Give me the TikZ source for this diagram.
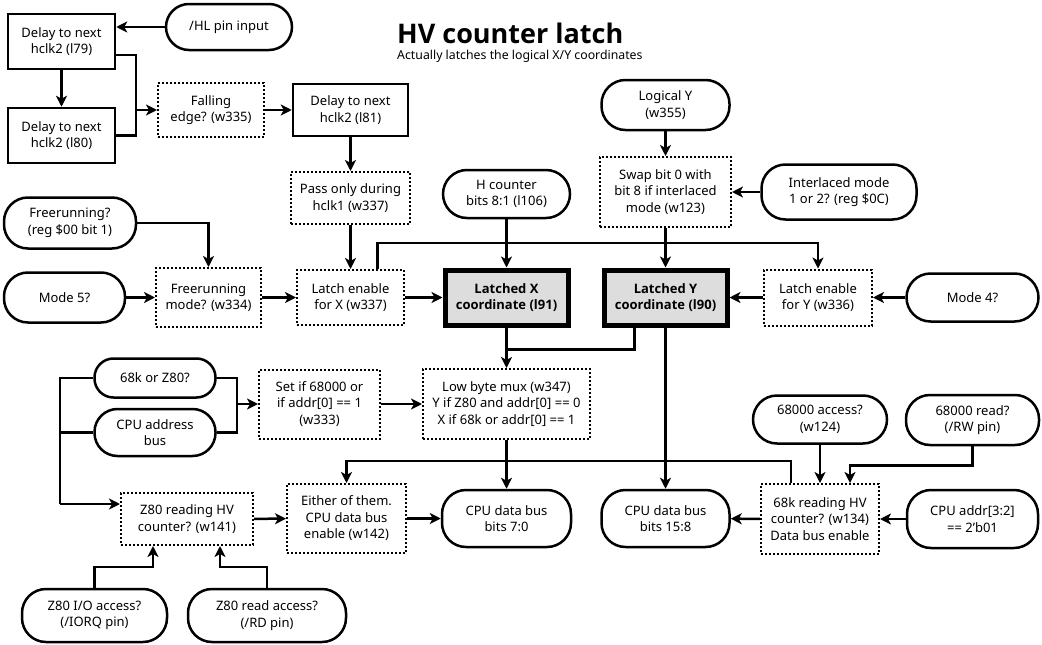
\documentclass[tikz,border=0pt]{standalone}
\usepackage{fontspec}
\setmainfont{Noto Sans}
\newfontfamily\boldfam{Open Sans}
\usetikzlibrary{arrows.meta,calc}
\definecolor{latchgray}{HTML}{DDDDDD}
\begin{document}
\begin{tikzpicture}[x=1pt,y=-1pt,
  base/.style={align=center, inner sep=0pt, font=\fontsize{13}{16.5}\selectfont, line width=2.5pt},
  rbox/.style={base, draw},
  dbox/.style={base, draw, line width=2pt, dash pattern=on 2pt off 2pt},
  lbox/.style={base, draw, line width=5pt, fill=latchgray, font=\fontsize{13}{16.5}\selectfont\boldfam\bfseries},
  stad/.style={base, draw, rounded corners=#1},
  stad/.default=24pt,
  sz/.style 2 args={minimum width=#1pt, minimum height=#2pt},
  line/.style={line width=2.5pt},
  arr/.style={line, -{Stealth[length=11pt,width=11pt,inset=3pt]}}
]
\useasboundingbox (0,0) rectangle (1042,645);

% title
\node[anchor=base west, inner sep=0pt, font=\fontsize{27}{30}\selectfont\boldfam\bfseries] (title) at (397,43) {HV counter latch};
\node[anchor=base west, inner sep=0pt, font=\fontsize{12.3}{15}\selectfont] (subtitle) at (397,59) {Actually latches the logical X/Y coordinates};

% nodes
\node[rbox, sz={107}{55}] (l79) at (61.5,41.5) {Delay to next\\hclk2 (l79)};
\node[stad=23pt, sz={126}{46}] (HL) at (229,27) {/HL pin input};
\node[rbox, sz={107}{55}] (l80) at (61.5,135.5) {Delay to next\\hclk2 (l80)};
\node[dbox, sz={106}{54}] (fall) at (211,110) {Falling\\edge? (w335)};
\node[rbox, sz={115}{52}] (l81) at (350.5,110) {Delay to next\\hclk2 (l81)};
\node[dbox, sz={119}{52}] (pass) at (350.5,198) {Pass only during\\hclk1 (w337)};
\node[stad, sz={132}{51}] (freer) at (70,223) {Freerunning?\\(reg \$00 bit 1)};
\node[stad, sz={121}{50}] (mode5) at (64.5,297.5) {Mode 5?};
\node[dbox, sz={105}{59}] (frmode) at (208.5,297.5) {Freerunning\\mode? (w334)};
\node[dbox, sz={107}{55}] (lex) at (350.5,297.5) {Latch enable\\for X (w337)};
\node[lbox, sz={123}{55}] (latx) at (506.5,297.5) {Latched X\\coordinate (l91)};
\node[lbox, sz={123}{55}] (laty) at (665.5,297.5) {Latched Y\\coordinate (l90)};
\node[dbox, sz={108}{56}] (ley) at (818,297.5) {Latch enable\\for Y (w336)};
\node[stad, sz={132}{48}] (mode4) at (972.5,297.5) {Mode 4?};
\node[stad, sz={127}{48}] (hcnt) at (506.5,194) {H counter\\bits 8:1 (l106)};
\node[dbox, sz={131}{70}] (swap) at (665.5,192) {Swap bit 0 with\\bit 8 if interlaced\\mode (w123)};
\node[stad, sz={128}{50}] (logy) at (665.5,105) {Logical Y\\(w355)};
\node[stad, sz={155}{55}] (interl) at (839,192) {Interlaced mode\\1 or 2? (reg \$0C)};
\node[dbox, sz={167}{70}] (mux) at (506.5,404) {Low byte mux (w347)\\Y if Z80 and addr[0] == 0\\X if 68k or addr[0] == 1};
\node[dbox, sz={121}{69}] (setif) at (319.5,404) {Set if 68000 or\\if addr[0] == 1\\(w333)};
\node[stad=19pt, sz={121}{39}] (k68z80) at (155,378) {68k or Z80?};
\node[stad=23pt, sz={121}{47}] (cpuaddr) at (155,432.5) {CPU address\\bus};
\node[dbox, sz={132}{52}] (z80rd) at (187,519) {Z80 reading HV\\counter? (w141)};
\node[dbox, sz={119}{69}] (either) at (346.5,518.5) {Either of them.\\CPU data bus\\enable (w142)};
\node[stad, sz={129}{57}] (db70) at (506.5,518.5) {CPU data bus\\bits 7:0};
\node[stad, sz={128}{57}] (db158) at (665.5,518.5) {CPU data bus\\bits 15:8};
\node[dbox, sz={118}{70}] (k68rd) at (820,519) {68k reading HV\\counter? (w134)\\Data bus enable};
\node[stad, sz={134}{48}] (a68k) at (820,419.5) {68000 access?\\(w124)};
\node[stad, sz={133}{50}] (r68k) at (972.5,420) {68000 read?\\(/RW pin)};
\node[stad, sz={131}{58}] (addr32) at (972.5,519) {CPU addr[3:2]\\== 2'b01};
\node[stad, sz={145}{53}] (z80io) at (94.5,615.5) {Z80 I/O access?\\(/IORQ pin)};
\node[stad, sz={158}{53}] (z80rda) at (267,615.5) {Z80 read access?\\(/RD pin)};

% junctions
\coordinate (j1) at ($(fall.west)+(-21,0)$);
\coordinate (jm) at ($(latx.south)+(0,22)$);
\coordinate (jr) at ($(setif.west)+(-21,0)$);
\coordinate (jl) at ($(z80rd.west)+(-60,-15)$);

% connectors
\draw[arr] (HL.west) -- (HL.west -| l79.east);
\draw[arr] (l79) -- (l80);
\draw[line] ($(l79.east)+(0,13.5)$) -| (j1);
\draw[line] (l80.east) -| (j1);
\draw[arr] (j1) -- (fall.west);
\draw[arr] (fall) -- (l81);
\draw[arr] (l81) -- (pass);
\draw[arr] (pass) -- (lex);
\draw[arr] (freer.east) -| (frmode.north);
\draw[arr] (mode5) -- (frmode);
\draw[arr] (frmode) -- (lex);
\draw[arr] (lex) -- (latx);
\draw[arr] ($(lex.north)+(27,0)$) -- ++(0,-26) -| (ley.north);
\draw[arr] (hcnt) -- (latx);
\draw[arr] (logy) -- (swap);
\draw[arr] (swap) -- (laty);
\draw[arr] (interl) -- (swap);
\draw[arr] (ley) -- (laty);
\draw[arr] (mode4) -- (ley);
\draw[arr] (latx) -- (mux);
\draw[line] ($(laty.south)+(-31,0)$) |- (jm);
\draw[arr] (laty) -- (db158);
\draw[arr] (mux) -- (db70);
\draw[arr] ($(k68rd.north)+(-29,0)$) -- ++(0,-22) -| (either.north);
\draw[arr] (a68k) -- (k68rd);
\draw[arr] (r68k.south) -- ++(0,19) -| ($(k68rd.north)+(30,0)$);
\draw[arr] (addr32) -- (k68rd);
\draw[arr] (k68rd) -- (db158);
\draw[arr] (either) -- (db70);
\draw[arr] (z80rd) -- (either);
\draw[line] (k68z80.east) -| (jr);
\draw[line] (cpuaddr.east) -| (jr);
\draw[arr] (jr) -- (setif);
\draw[arr] (setif) -- (mux);
\draw[line] (k68z80.west) -| (jl);
\draw[line] (cpuaddr.west) -| (jl);
\draw[arr] (jl) -- (jl -| z80rd.west);
\draw[arr] (z80io.north) -- ++(0,-21) -| ($(z80rd.south)+(-34,0)$);
\draw[arr] (z80rda.north) -- ++(0,-21) -| ($(z80rd.south)+(33,0)$);
\end{tikzpicture}
\end{document}
